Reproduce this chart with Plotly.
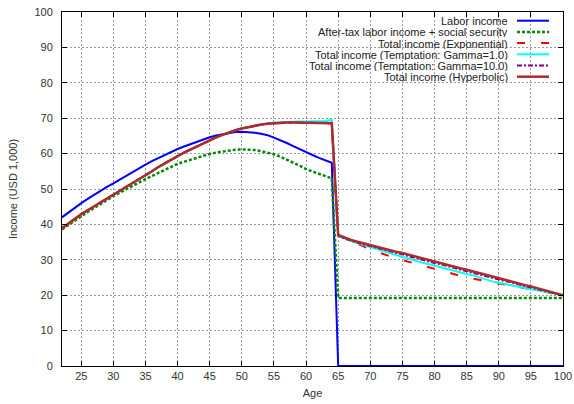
import plotly.graph_objects as go

ages = list(range(22, 101))

labor_income = [
    42.0, 43.4, 44.7, 46.0, 47.2, 48.4, 49.5, 50.6, 51.6, 52.7,   # 22-31
    53.7, 54.9, 55.9, 56.9, 57.9, 58.8, 59.7, 60.5, 61.3, 62.0,   # 32-41
    62.7, 63.4, 64.0, 64.6, 65.1, 65.5, 65.9, 66.1, 66.2, 66.1,   # 42-51
    65.9, 65.6, 65.2, 64.5, 63.8, 63.0, 62.1, 61.2, 60.3, 59.6,   # 52-61
    58.8, 58.1, 57.4,                                             # 62-64
    0, 0, 0, 0, 0, 0, 0, 0, 0, 0, 0, 0, 0, 0, 0, 0, 0, 0,         # 65-82
    0, 0, 0, 0, 0, 0, 0, 0, 0, 0, 0, 0, 0, 0, 0, 0, 0, 0,         # 83-100
]

after_tax_ss = [
    38.6, 39.9, 41.1, 42.3, 43.5, 44.7, 45.8, 46.9, 48.0, 49.0,   # 22-31
    50.0, 51.0, 51.9, 52.8, 53.7, 54.6, 55.5, 56.3, 57.1, 57.7,   # 32-41
    58.3, 58.9, 59.4, 59.9, 60.3, 60.6, 60.9, 61.1, 61.2, 61.2,   # 42-51
    61.0, 60.7, 60.3, 59.8, 59.1, 58.3, 57.5, 56.6, 55.6, 54.9,   # 52-61
    54.3, 53.6, 53.0,                                             # 62-64
    19.2, 19.2, 19.2, 19.2, 19.2, 19.2, 19.2, 19.2, 19.2, 19.2,   # 65-74
    19.2, 19.2, 19.2, 19.2, 19.2, 19.2, 19.2, 19.2, 19.2, 19.2,   # 75-84
    19.2, 19.2, 19.2, 19.2, 19.2, 19.2, 19.2, 19.2, 19.2, 19.2,   # 85-94
    19.2, 19.2, 19.2, 19.2, 19.2, 19.2,                           # 95-100
]

total_hyperbolic = [
    38.9, 40.3, 41.6, 42.9, 44.0, 45.1, 46.2, 47.2, 48.2, 49.4,   # 22-31
    50.5, 51.7, 52.8, 53.9, 55.0, 56.2, 57.3, 58.3, 59.3, 60.3,   # 32-41
    61.2, 62.1, 63.0, 63.8, 64.6, 65.3, 66.0, 66.6, 67.1, 67.5,   # 42-51
    67.9, 68.2, 68.4, 68.6, 68.7, 68.8, 68.8, 68.8, 68.8, 68.8,   # 52-61
    68.7, 68.7, 68.6,                                             # 62-64
    37.0, 36.2, 35.6, 35.1, 34.6, 34.2, 33.7, 33.3, 32.8, 32.3,   # 65-74
    31.9, 31.4, 30.9, 30.5, 30.0, 29.5, 29.1, 28.6, 28.1, 27.6,   # 75-84
    27.2, 26.7, 26.2, 25.8, 25.3, 24.8, 24.4, 23.9, 23.4, 22.9,   # 85-94
    22.5, 22.0, 21.5, 21.0, 20.5, 20.0,                           # 95-100
]

total_exponential = [
    38.9, 40.3, 41.6, 42.9, 44.0, 45.1, 46.2, 47.2, 48.2, 49.4,   # 22-31
    50.5, 51.7, 52.8, 53.9, 55.0, 56.2, 57.3, 58.3, 59.3, 60.3,   # 32-41
    61.2, 62.1, 63.0, 63.8, 64.6, 65.3, 66.0, 66.6, 67.1, 67.5,   # 42-51
    67.9, 68.2, 68.4, 68.6, 68.7, 68.8, 68.8, 68.8, 68.8, 68.8,   # 52-61
    68.7, 68.7, 68.6,                                             # 62-64
    36.8, 36.0, 35.2, 34.4, 33.7, 33.0, 32.3, 31.6, 31.0, 30.4,   # 65-74
    29.9, 29.4, 28.9, 28.4, 27.9, 27.4, 27.0, 26.3, 25.9, 25.5,   # 75-84
    25.0, 24.7, 24.3, 24.0, 23.6, 23.3, 23.0, 22.7, 22.3, 22.0,   # 85-94
    21.7, 21.4, 21.0, 20.7, 20.3, 20.0,                           # 95-100
]

total_gamma1 = [
    38.9, 40.3, 41.6, 42.9, 44.0, 45.1, 46.2, 47.2, 48.2, 49.4,   # 22-31
    50.5, 51.7, 52.8, 53.9, 55.0, 56.2, 57.3, 58.3, 59.3, 60.3,   # 32-41
    61.2, 62.1, 63.0, 63.8, 64.6, 65.3, 66.0, 66.6, 67.1, 67.5,   # 42-51
    67.9, 68.2, 68.5, 68.8, 68.9, 69.1, 69.1, 69.1, 69.1, 69.1,   # 52-61
    69.1, 69.2, 69.5,                                             # 62-64
    36.8, 36.0, 35.3, 34.7, 34.1, 33.6, 33.0, 32.4, 31.9, 31.3,   # 65-74
    30.8, 30.3, 29.7, 29.2, 28.8, 28.3, 27.8, 27.4, 26.9, 26.5,   # 75-84
    26.0, 25.6, 25.0, 24.3, 23.9, 23.5, 23.1, 22.8, 22.4, 22.0,   # 85-94
    21.7, 21.4, 21.0, 20.7, 20.3, 20.0,                           # 95-100
]

total_gamma10 = [
    38.9, 40.3, 41.6, 42.9, 44.0, 45.1, 46.2, 47.2, 48.2, 49.4,   # 22-31
    50.5, 51.7, 52.8, 53.9, 55.0, 56.2, 57.3, 58.3, 59.3, 60.3,   # 32-41
    61.2, 62.1, 63.0, 63.8, 64.6, 65.3, 66.0, 66.6, 67.1, 67.5,   # 42-51
    67.9, 68.2, 68.4, 68.6, 68.7, 68.8, 68.8, 68.8, 68.8, 68.8,   # 52-61
    68.7, 68.7, 68.6,                                             # 62-64
    36.9, 36.0, 35.4, 34.8, 34.3, 33.9, 33.4, 32.9, 32.4, 31.9,   # 65-74
    31.5, 31.0, 30.5, 30.1, 29.6, 29.1, 28.7, 28.2, 27.7, 27.2,   # 75-84
    26.8, 26.3, 25.8, 25.4, 24.9, 24.4, 24.0, 23.5, 23.1, 22.6,   # 85-94
    22.2, 21.7, 21.3, 20.8, 20.4, 20.0,                           # 95-100
]

series_names = [
    "Labor income",
    "After-tax labor income + social security",
    "Total income (Exponential)",
    "Total income (Temptation: Gamma=1.0)",
    "Total income (Temptation: Gamma=10.0)",
    "Total income (Hyperbolic)",
]
series_values = [labor_income, after_tax_ss, total_exponential,
                 total_gamma1, total_gamma10, total_hyperbolic]
series_colors = ["#0000ff", "#008a00", "#ff0000", "#00ffff", "#800080", "#b02a2a"]
series_dash = ["solid", "3px,2px", "8px,16px", "solid", "5px,2px,2px,2px", "solid"]
series_width = [2, 2.5, 2, 2, 2, 2.5]

x_ticks = list(range(25, 101, 5))
y_ticks = list(range(0, 101, 10))

FONT = "Liberation Sans, Arial, Helvetica, sans-serif"

fig = go.Figure()
for name, vals, col, dash, w in zip(series_names, series_values, series_colors,
                                    series_dash, series_width):
    fig.add_trace(go.Scatter(x=ages, y=vals, mode="lines", name=name,
                             line=dict(color=col, dash=dash, width=w),
                             showlegend=False, hoverinfo="skip"))

# manual gnuplot-style legend (text right-aligned, sample to the right)
W, H = 574, 404
L, R, T, B = 62, 11, 12, 38
pw, ph = W - L - R, H - T - B


def px_x(px):
    return (px - L) / pw


def px_y(py):
    return (H - B - py) / ph


annotations = []
shapes = []
for i, (name, col, dash, w) in enumerate(zip(series_names, series_colors,
                                             series_dash, series_width)):
    yy = 20.7 + 11.2 * i
    annotations.append(dict(x=px_x(509), y=px_y(yy), xref="paper", yref="paper",
                            text=name, showarrow=False, xanchor="right",
                            yanchor="middle", height=11, borderpad=0,
                            font=dict(size=11, color="#222", family=FONT)))
    shapes.append(dict(type="line", xref="paper", yref="paper",
                       x0=px_x(517), x1=px_x(549), y0=px_y(yy), y1=px_y(yy),
                       line=dict(color=col, dash=dash, width=w)))

fig.update_layout(
    width=W, height=H,
    margin=dict(l=L, r=R, t=T, b=B, pad=0, autoexpand=False),
    paper_bgcolor="white", plot_bgcolor="white",
    font=dict(family=FONT, size=11, color="#333"),
    annotations=annotations, shapes=shapes,
    xaxis=dict(range=[22, 100], tickvals=x_ticks, ticks="inside", ticklen=5,
               tickcolor="black", showline=True, linecolor="black", linewidth=1,
               mirror="ticks", showgrid=True, gridcolor="#9a9a9a",
               griddash="2px,2px", gridwidth=1, zeroline=False,
               layer="below traces", automargin=False,
               title=dict(text="Age", font=dict(size=11, color="#333"), standoff=8),
               tickfont=dict(size=11, color="#333")),
    yaxis=dict(range=[0, 100], tickvals=y_ticks, ticks="inside", ticklen=5,
               tickcolor="black", showline=True, linecolor="black", linewidth=1,
               mirror="ticks", showgrid=True, gridcolor="#9a9a9a",
               griddash="2px,2px", gridwidth=1, zeroline=False,
               ticklabelstandoff=6, automargin=False,
               title=dict(text="Income (USD 1,000)", font=dict(size=11, color="#333"),
                          standoff=14),
               tickfont=dict(size=11, color="#333")),
)

fig.write_html("out.html",
               config={"displayModeBar": False, "staticPlot": True},
               post_script="document.body.style.margin='0';"
                           "document.body.style.overflow='hidden';")
